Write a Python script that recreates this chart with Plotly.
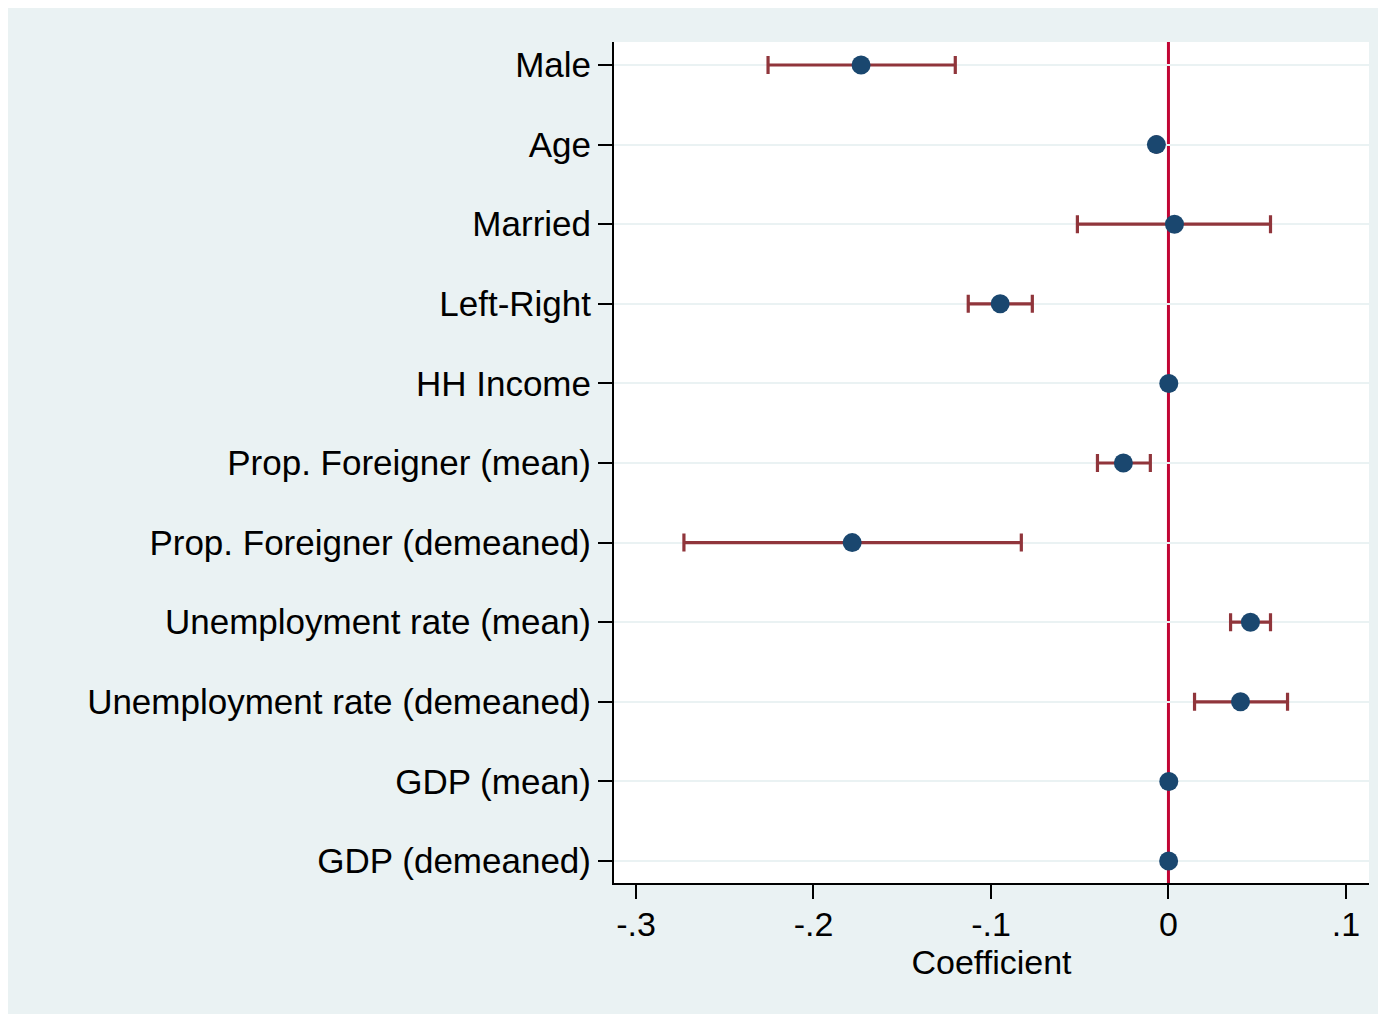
import plotly.graph_objects as go

variables = [
    "Male", "Age", "Married", "Left-Right", "HH Income",
    "Prop. Foreigner (mean)", "Prop. Foreigner (demeaned)",
    "Unemployment rate (mean)", "Unemployment rate (demeaned)",
    "GDP (mean)", "GDP (demeaned)",
]
coef = [-0.1732, -0.0068, 0.0034, -0.0948, 0.0002, -0.0254, -0.1782, 0.0462, 0.0406, 0.0002, 0.0001]
ci_low = [-0.2256, -0.0072, -0.0513, -0.1128, 0.0001, -0.0400, -0.2730, 0.0350, 0.0147, 0.0001, 0.0000]
ci_high = [-0.1201, -0.0064, 0.0575, -0.0767, 0.0003, -0.0102, -0.0829, 0.0575, 0.0671, 0.0003, 0.0002]
x_ticks = [-0.3, -0.2, -0.1, 0, 0.1]
x_tick_labels = ["-.3", "-.2", "-.1", "0", ".1"]

err_plus = [h - c for h, c in zip(ci_high, coef)]
err_minus = [c - l for c, l in zip(coef, ci_low)]

FONT = "Liberation Sans, Arial, sans-serif"
BG = "#EAF2F3"

fig = go.Figure()
fig.add_trace(go.Scatter(
    x=coef, y=variables, mode="markers",
    marker=dict(color="#1A476F", size=19, line=dict(width=0)),
    error_x=dict(type="data", symmetric=False, array=err_plus, arrayminus=err_minus,
                 color="#90353B", thickness=3.2, width=9),
    showlegend=False, cliponaxis=False,
))

fig.add_shape(type="line", xref="x", yref="paper", x0=0, x1=0, y0=0, y1=1,
              line=dict(color="#C10534", width=3), layer="below")

fig.update_layout(
    width=1378, height=1006,
    margin=dict(l=606, r=17, t=34, b=131),
    paper_bgcolor=BG, plot_bgcolor="white",
    font=dict(family=FONT, size=35, color="black"),
)
fig.update_xaxes(
    range=[-0.3124, 0.1130], tickvals=x_ticks, ticktext=x_tick_labels,
    showgrid=False, zeroline=False, showline=True, linecolor="black", linewidth=2,
    ticks="outside", ticklen=14, tickwidth=2, tickcolor="black",
    tickfont=dict(size=34, family=FONT), ticklabelstandoff=-4,
    title=dict(text="Coefficient", font=dict(size=34, family=FONT), standoff=0),
)
fig.update_yaxes(
    type="category", categoryorder="array", categoryarray=variables,
    range=[10.276, -0.289],
    showgrid=True, gridcolor=BG, gridwidth=2, zeroline=False,
    showline=True, linecolor="black", linewidth=2,
    ticks="outside", ticklen=14, tickwidth=2, tickcolor="black",
    tickfont=dict(size=35, family=FONT), ticklabelstandoff=0,
)

fig.write_html("out.html")
